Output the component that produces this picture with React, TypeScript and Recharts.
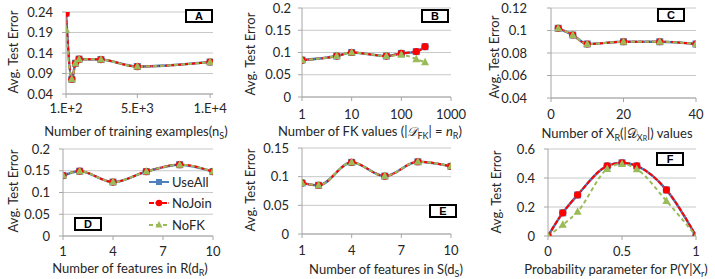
import React from 'react';
import { LineChart, Line, XAxis, YAxis, CartesianGrid, Legend } from 'recharts';

// A: number of training examples
const trainSizes = [100, 500, 750, 1000, 2500, 5000, 10000];
const trainUseAll = [0.237, 0.076, 0.115, 0.125, 0.124, 0.107, 0.118];
const trainNoJoin = [0.237, 0.076, 0.115, 0.125, 0.124, 0.107, 0.118];
const trainNoFK = [0.197, 0.076, 0.115, 0.125, 0.124, 0.107, 0.118];
const trainTicks = [100, 5000, 10000];
const trainTickLabels = ['1.E+2', '5.E+3', '1.E+4'];

// B: number of FK values (log x)
const fkCounts = [1, 5, 10, 50, 100, 200, 300];
const fkUseAll = [0.083, 0.092, 0.1, 0.092, 0.098, 0.102, 0.113];
const fkNoJoin = [0.083, 0.092, 0.1, 0.092, 0.098, 0.102, 0.113];
const fkNoFK = [0.083, 0.092, 0.1, 0.092, 0.095, 0.085, 0.078];

// C: number of X_R values
const xrCounts = [2, 6, 10, 20, 30, 40];
const xrUseAll = [0.102, 0.096, 0.088, 0.09, 0.09, 0.088];
const xrNoJoin = [0.102, 0.096, 0.088, 0.09, 0.09, 0.088];
const xrNoFK = [0.102, 0.096, 0.088, 0.09, 0.09, 0.088];

// D: features in R
const dRCounts = [1, 2, 4, 6, 8, 10];
const dRUseAll = [0.139, 0.149, 0.124, 0.148, 0.164, 0.148];
const dRNoJoin = [0.139, 0.149, 0.124, 0.148, 0.164, 0.148];
const dRNoFK = [0.139, 0.149, 0.124, 0.148, 0.164, 0.148];

// E: features in S
const dSCounts = [1, 2, 4, 6, 8, 10];
const dSUseAll = [0.089, 0.085, 0.125, 0.101, 0.126, 0.118];
const dSNoJoin = [0.089, 0.085, 0.125, 0.101, 0.126, 0.118];
const dSNoFK = [0.089, 0.085, 0.125, 0.101, 0.126, 0.118];

// F: probability parameter
const probs = [0, 0.1, 0.2, 0.4, 0.5, 0.6, 0.8, 1];
const probUseAll = [0, 0.16, 0.283, 0.483, 0.505, 0.483, 0.318, 0];
const probNoJoin = [0, 0.16, 0.283, 0.483, 0.505, 0.483, 0.318, 0];
const probNoFK = [0, 0.077, 0.168, 0.462, 0.497, 0.46, 0.242, 0];

const seriesOrder = ['useAll', 'noJoin', 'noFK'];

const FONT = 'Lato, "Liberation Sans", sans-serif';
const GRID = '#C8C8C8';
const AXIS = '#A6A6A6';
const TEXT = '#262626';
const BLUE = '#4F81BD';
const RED = '#FF0000';
const GREEN = '#9BBB59';

const squareDot = (props: any) => {
  const { cx, cy, index } = props;
  if (cx == null || cy == null) return <g key={`s${index}`} />;
  return <rect key={`s${index}`} x={cx - 3.5} y={cy - 3.5} width={7} height={7} fill={BLUE} />;
};
const circleDot = (props: any) => {
  const { cx, cy, index } = props;
  if (cx == null || cy == null) return <g key={`c${index}`} />;
  return <circle key={`c${index}`} cx={cx} cy={cy} r={3.6} fill={RED} />;
};
const triDot = (props: any) => {
  const { cx, cy, index } = props;
  if (cx == null || cy == null) return <g key={`t${index}`} />;
  return <polygon key={`t${index}`} points={`${cx},${cy - 4.5} ${cx + 4},${cy + 3} ${cx - 4},${cy + 3}`} fill={GREEN} />;
};

const markerFor: Record<string, (x: number, y: number) => React.ReactNode> = {
  useAll: (x, y) => <rect x={x - 3} y={y - 3} width={6} height={6} fill={BLUE} />,
  noJoin: (x, y) => <circle cx={x} cy={y} r={3.2} fill={RED} />,
  noFK: (x, y) => <polygon points={`${x},${y - 4} ${x + 3.5},${y + 2.5} ${x - 3.5},${y + 2.5}`} fill={GREEN} />,
};
const dashFor: Record<string, string | undefined> = { useAll: undefined, noJoin: '5 1.5', noFK: '4 3' };

function LegendContent(props: any) {
  const items = [...(props.payload || [])].sort(
    (a: any, b: any) => seriesOrder.indexOf(a.dataKey) - seriesOrder.indexOf(b.dataKey));
  return (
    <div style={{ fontFamily: FONT, fontSize: 13, color: TEXT }}>
      {items.map((it: any) => (
        <div key={it.dataKey} style={{ height: 21.5, display: 'flex', alignItems: 'center' }}>
          <svg width={22} height={12} style={{ marginRight: 2 }}>
            <line x1={1} y1={6} x2={21} y2={6} stroke={it.color} strokeWidth={2} strokeDasharray={dashFor[it.dataKey]} />
            {markerFor[it.dataKey](11, 6)}
          </svg>
          <span>{it.value}</span>
        </div>
      ))}
    </div>
  );
}

interface PanelProps {
  left: number; top: number; width: number; height: number;
  plot: { l: number; r: number; t: number; b: number };
  xs: number[]; useAll: number[]; noJoin: number[]; noFK: number[];
  xDomain: [number, number]; xTicks: number[]; xLabels?: string[]; xScale?: 'linear' | 'log';
  yDomain: [number, number]; yTicks: number[];
  yGap: number; xGap: number;
  legend?: boolean;
}

function Panel(p: PanelProps) {
  const data = p.xs.map((x, i) => ({ x, useAll: p.useAll[i], noJoin: p.noJoin[i], noFK: p.noFK[i] }));
  const { l, r, t, b } = p.plot;
  const tick = { fill: TEXT, fontSize: 13, fontFamily: FONT };
  return (
    <div style={{ position: 'absolute', left: p.left, top: p.top }}>
      <LineChart width={p.width} height={p.height} data={data}
        margin={{ top: t, right: p.width - r, bottom: 0, left: 0 }}>
        <CartesianGrid vertical={false} stroke={GRID} />
        <XAxis dataKey="x" type="number" scale={p.xScale || 'linear'} domain={p.xDomain}
          ticks={p.xTicks} interval={0} allowDataOverflow height={p.height - b}
          tickFormatter={(v: number, i: number) => (p.xLabels ? p.xLabels[i] : String(v))}
          tickSize={4} tickMargin={p.xGap} tick={tick}
          axisLine={{ stroke: AXIS }} tickLine={{ stroke: AXIS }} />
        <YAxis type="number" domain={p.yDomain} ticks={p.yTicks} interval={0} allowDataOverflow
          width={l} tickSize={4} tickMargin={p.yGap - 4} tick={tick}
          axisLine={{ stroke: AXIS }} tickLine={{ stroke: AXIS }} />
        <Line type="monotone" dataKey="useAll" name="UseAll" stroke={BLUE} strokeWidth={2.5}
          dot={squareDot} activeDot={false} isAnimationActive={false} />
        <Line type="monotone" dataKey="noJoin" name="NoJoin" stroke={RED} strokeWidth={2}
          strokeDasharray="5 1.5" dot={circleDot} activeDot={false} isAnimationActive={false} />
        <Line type="monotone" dataKey="noFK" name="NoFK" stroke={GREEN} strokeWidth={2}
          strokeDasharray="4 3" dot={triDot} activeDot={false} isAnimationActive={false} />
        {p.legend && (
          <Legend layout="vertical" align="center" verticalAlign="middle" content={LegendContent}
            wrapperStyle={{ left: 148, top: 36, width: 80 }} />
        )}
      </LineChart>
    </div>
  );
}

const subStyle: React.CSSProperties = { fontSize: 9, verticalAlign: -3, lineHeight: 0 };

function XTitle({ cx, cy, children }: { cx: number; cy: number; children: React.ReactNode }) {
  return (
    <div style={{ position: 'absolute', left: cx, top: cy, transform: 'translate(-50%, -50%)',
      whiteSpace: 'nowrap', fontFamily: FONT, fontSize: 13, color: TEXT, lineHeight: '13px' }}>
      {children}
    </div>
  );
}

function YTitle({ cx, cy }: { cx: number; cy: number }) {
  return (
    <div style={{ position: 'absolute', left: cx, top: cy, transform: 'translate(-50%, -50%) rotate(-90deg)',
      whiteSpace: 'nowrap', fontFamily: FONT, fontSize: 13, color: TEXT, lineHeight: '13px' }}>
      Avg. Test Error
    </div>
  );
}

function Tag({ x, y, label }: { x: number; y: number; label: string }) {
  return (
    <div style={{ position: 'absolute', left: x, top: y, width: 28, height: 14, boxSizing: 'border-box',
      border: '2px solid #000', background: '#fff', fontFamily: '"Liberation Sans", Arial, sans-serif',
      fontWeight: 'bold', fontSize: 11, lineHeight: '10px', textAlign: 'center', color: '#000' }}>
      {label}
    </div>
  );
}

export default function App() {
  return (
    <div style={{ position: 'absolute', left: 0, top: 0, width: 715, height: 279, background: '#fff', overflow: 'hidden' }}>
      <Panel left={0} top={0} width={236} height={135} plot={{ l: 66, r: 213, t: 12, b: 94 }}
        xs={trainSizes} useAll={trainUseAll} noJoin={trainNoJoin} noFK={trainNoFK}
        xDomain={[100, 10200]} xTicks={trainTicks} xLabels={trainTickLabels}
        yDomain={[0.04, 0.24]} yTicks={[0.04, 0.09, 0.14, 0.19, 0.24]} yGap={13} xGap={6} />
      <Panel left={236} top={0} width={236} height={135} plot={{ l: 66, r: 215, t: 8, b: 97 }}
        xs={fkCounts} useAll={fkUseAll} noJoin={fkNoJoin} noFK={fkNoFK}
        xDomain={[1, 1000]} xTicks={[1, 10, 100, 1000]} xScale="log"
        yDomain={[0, 0.2]} yTicks={[0, 0.05, 0.1, 0.15, 0.2]} yGap={11} xGap={9} />
      <Panel left={472} top={0} width={243} height={135} plot={{ l: 79, r: 224, t: 8, b: 98 }}
        xs={xrCounts} useAll={xrUseAll} noJoin={xrNoJoin} noFK={xrNoFK}
        xDomain={[0, 40]} xTicks={[0, 20, 40]}
        yDomain={[0.04, 0.12]} yTicks={[0.04, 0.06, 0.08, 0.1, 0.12]} yGap={24} xGap={8} />
      <Panel left={0} top={135} width={236} height={144} plot={{ l: 63, r: 213, t: 14, b: 101 }}
        xs={dRCounts} useAll={dRUseAll} noJoin={dRNoJoin} noFK={dRNoFK}
        xDomain={[1, 10]} xTicks={[1, 4, 7, 10]}
        yDomain={[0, 0.2]} yTicks={[0, 0.05, 0.1, 0.15, 0.2]} yGap={13} xGap={7} legend />
      <Panel left={236} top={135} width={236} height={144} plot={{ l: 66, r: 215, t: 13, b: 99 }}
        xs={dSCounts} useAll={dSUseAll} noJoin={dSNoJoin} noFK={dSNoFK}
        xDomain={[1, 10]} xTicks={[1, 4, 7, 10]}
        yDomain={[0, 0.15]} yTicks={[0, 0.05, 0.1, 0.15]} yGap={13} xGap={8} />
      <Panel left={472} top={135} width={243} height={144} plot={{ l: 76, r: 224, t: 14, b: 101 }}
        xs={probs} useAll={probUseAll} noJoin={probNoJoin} noFK={probNoFK}
        xDomain={[0, 1]} xTicks={[0, 0.5, 1]}
        yDomain={[0, 0.6]} yTicks={[0, 0.2, 0.4, 0.6]} yGap={13} xGap={7} />

      <YTitle cx={13} cy={52} />
      <YTitle cx={250} cy={54} />
      <YTitle cx={494} cy={57} />
      <YTitle cx={13} cy={191} />
      <YTitle cx={250} cy={190} />
      <YTitle cx={496} cy={192} />

      <XTitle cx={136} cy={131}>Number of training examples(n<sub style={subStyle}>S</sub>)</XTitle>
      <XTitle cx={370} cy={131}>
        Number of FK values (|<span style={{ fontStyle: 'italic' }}>𝒟</span><sub style={subStyle}>FK</sub>| = <i>n</i><sub style={subStyle}>R</sub>)
      </XTitle>
      <XTitle cx={617} cy={133}>
        Number of X<sub style={subStyle}>R</sub>(|𝒟<sub style={subStyle}>X<span style={{ fontSize: 7 }}>R</span></sub>|) values
      </XTitle>
      <XTitle cx={130} cy={268}>Number of features in R(d<sub style={subStyle}>R</sub>)</XTitle>
      <XTitle cx={386} cy={269}>Number of features in S(d<sub style={subStyle}>S</sub>)</XTitle>
      <XTitle cx={616} cy={269}>Probability parameter for P(Y|X<sub style={subStyle}>r</sub>)</XTitle>

      <Tag x={185} y={9} label="A" />
      <Tag x={421} y={9} label="B" />
      <Tag x={657} y={8} label="C" />
      <Tag x={74} y={217} label="D" />
      <Tag x={429} y={204} label="E" />
      <Tag x={656} y={152} label="F" />
    </div>
  );
}
